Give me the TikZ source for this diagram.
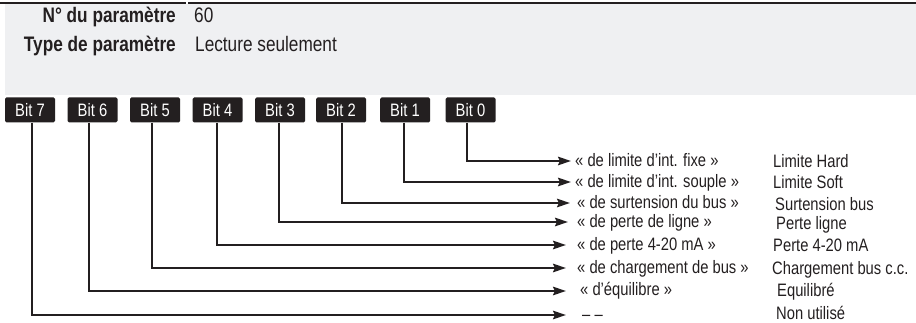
\documentclass[tikz,border=0pt]{standalone}
\usepackage{fontspec}
\setmainfont[FakeStretch=0.82]{Liberation Sans}
\usetikzlibrary{arrows.meta}
\definecolor{ink}{HTML}{231F20}
\definecolor{panel}{HTML}{EFF0F2}
\begin{document}
\begin{tikzpicture}[x=1pt,y=-1pt,
  bitbox/.style={fill=ink,rounded corners=1.5pt,minimum width=50pt,minimum height=25pt,inner sep=0pt,
    text=white,font=\fontsize{18}{20}\selectfont},
  hdrkey/.style={anchor=base east,inner sep=0pt,font=\fontsize{21}{24}\selectfont\bfseries,text=ink},
  hdrval/.style={anchor=base west,inner sep=0pt,font=\fontsize{21}{24}\selectfont,text=ink},
  lbl/.style={anchor=base west,inner sep=0pt,font=\fontsize{18}{20}\selectfont,text=ink},
  wire/.style={draw=ink,line width=2pt},
  arr/.style={wire,-{Stealth[length=13pt,width=8.5pt,inset=2pt]}}]
\useasboundingbox (0,0) rectangle (916,323);
% header panel
\fill[panel] (5,4) rectangle (916,95);
\draw[ink,line width=2pt] (0,3) -- (186,3);
\draw[ink,line width=2pt] (188,3) -- (916,3);
\node[hdrkey] (k1) at (176,23) {N° du paramètre};
\node[hdrval] (v1) at (194,23) {60};
\node[hdrkey] (k2) at (176,52) {Type de paramètre};
\node[hdrval] (v2) at (195,52) {Lecture seulement};
% bit boxes
\node[bitbox] (b7) at (30,110) {Bit 7};
\node[bitbox] (b6) at (92.5,110) {Bit 6};
\node[bitbox] (b5) at (155,110) {Bit 5};
\node[bitbox] (b4) at (217.5,110) {Bit 4};
\node[bitbox] (b3) at (280,110) {Bit 3};
\node[bitbox] (b2) at (341,110) {Bit 2};
\node[bitbox] (b1) at (405,110) {Bit 1};
\node[bitbox] (b0) at (470.5,110) {Bit 0};
% arrow tips
\coordinate (t0) at (571,161);
\coordinate (t1) at (571,182);
\coordinate (t2) at (570,203);
\coordinate (t3) at (568,222);
\coordinate (t4) at (566,245);
\coordinate (t5) at (566,268);
\coordinate (t6) at (566,291);
\coordinate (t7) at (566,315);
% connectors
\draw[arr] ([xshift=-3.5pt]b0.south) |- (t0);
\draw[arr] ([xshift=-1pt]b1.south) |- (t1);
\draw[arr] ([xshift=1pt]b2.south) |- (t2);
\draw[arr] ([xshift=-1pt]b3.south) |- (t3);
\draw[arr] ([xshift=-0.5pt]b4.south) |- (t4);
\draw[arr] ([xshift=-3pt]b5.south) |- (t5);
\draw[arr] ([xshift=-3.5pt]b6.south) |- (t6);
\draw[arr] ([xshift=2pt]b7.south) |- (t7);
% labels
\node[lbl] (q0) at (575,167) {« de limite d’int. fixe »};
\node[lbl] (q1) at (575,188) {« de limite d’int. souple »};
\node[lbl] (q2) at (577,209) {« de surtension du bus »};
\node[lbl] (q3) at (577,228) {« de perte de ligne »};
\node[lbl] (q4) at (577,251) {« de perte 4-20 mA »};
\node[lbl] (q5) at (577,273) {« de chargement de bus »};
\node[lbl] (q6) at (580,295) {« d’équilibre »};
\node[lbl] (q7) at (582,320) {– –};
\node[lbl] (r0) at (773,168) {Limite Hard};
\node[lbl] (r1) at (773,189) {Limite Soft};
\node[lbl] (r2) at (775,211) {Surtension bus};
\node[lbl] (r3) at (776,230) {Perte ligne};
\node[lbl] (r4) at (773,252) {Perte 4-20 mA};
\node[lbl] (r5) at (772,275) {Chargement bus c.c.};
\node[lbl] (r6) at (777,297) {Equilibré};
\node[lbl] (r7) at (776,319) {Non utilisé};
\end{tikzpicture}
\end{document}
